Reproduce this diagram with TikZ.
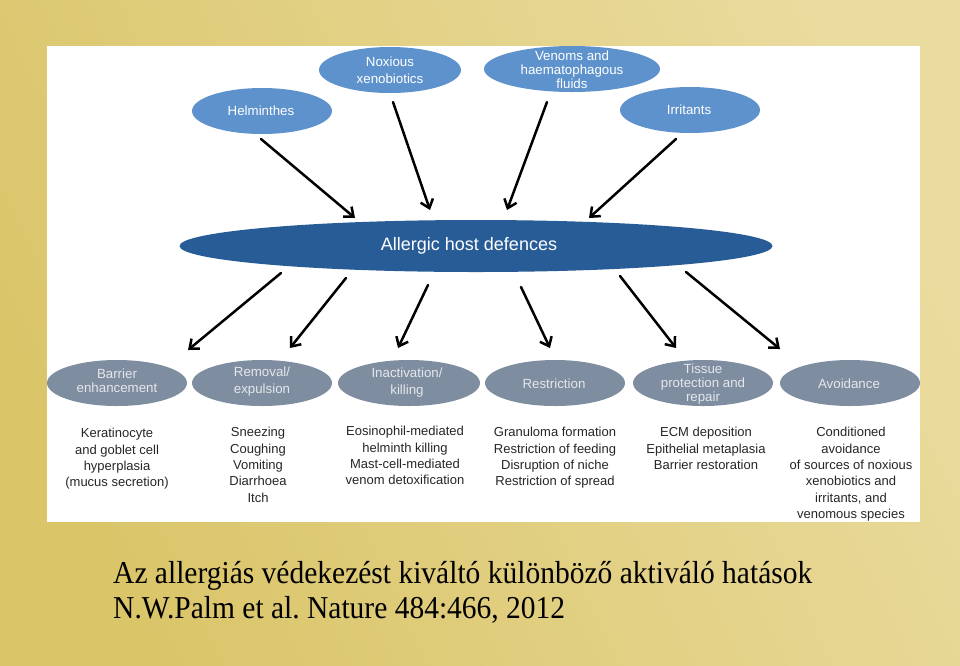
\documentclass[tikz,border=0pt]{standalone}
\usepackage{graphicx}
\usepackage{fontspec}
\setmainfont{Liberation Serif}
\setsansfont{Liberation Sans}
\usetikzlibrary{shapes.geometric,arrows.meta}
\definecolor{bgA}{RGB}{218,197,105}
\definecolor{bgB}{RGB}{234,219,158}
\definecolor{topblue}{RGB}{94,146,204}
\definecolor{midblue}{RGB}{40,92,150}
\definecolor{greyblue}{RGB}{126,141,160}
\definecolor{efftxt}{RGB}{228,231,235}
\definecolor{txt}{RGB}{38,38,38}
\begin{document}
\begin{tikzpicture}[x=1pt,y=-1pt,
  ell/.style={ellipse, inner sep=0pt, minimum width=140pt, minimum height=46pt},
  src/.style={ell, fill=topblue},
  eff/.style={ell, fill=greyblue},
  eltext/.style={font=\sffamily\fontsize{13.3}{13.8}\selectfont, align=center, inner sep=0pt},
  srctext/.style={eltext, text=white},
  efftext/.style={eltext, text=efftxt},
  desc/.style={font=\sffamily\fontsize{13}{16.4}\selectfont, align=center,
    text=txt, anchor=north, inner sep=0pt},
  arr/.style={line width=2.5pt, line cap=round, -{Straight Barb[length=8pt,width=13pt]}},
  captext/.style={font=\fontsize{29.5}{35}\selectfont, anchor=base west, inner sep=0pt, text=black}
]
\useasboundingbox (0,0) rectangle (960,665);
\shade[left color=bgA, right color=bgB, shading angle=115] (0,0) rectangle (960,665);
\fill[white] (47,46) rectangle (920,522);

% sources
\node[src, minimum width=140pt] (helm) at (262,111) {};
\node[srctext] (helmt) at (261,111) {Helminthes};
\node[src, minimum width=142pt] (nox) at (390,70) {};
\node[srctext] (noxt) at (390,70) {Noxious\\[3.5pt]xenobiotics};
\node[src, minimum width=176pt] (ven) at (572,69) {};
\node[srctext] (vent) at (572,70) {Venoms and\\haematophagous\\fluids};
\node[src, minimum width=140pt] (irr) at (690,110) {};
\node[srctext] (irrt) at (689,110) {Irritants};

% centre
\node[ellipse, fill=midblue, inner sep=0pt, minimum width=593pt, minimum height=52pt] (ahd) at (476,246) {};
\node[text=white, inner sep=0pt, font=\sffamily\fontsize{18}{18}\selectfont] (ahdt) at (469,246) {Allergic host defences};

% effector ellipses
\node[eff] (e1) at (117,383) {};
\node[efftext] (e1t) at (117,381) {Barrier\\enhancement};
\node[eff] (e2) at (262,383) {};
\node[efftext] (e2t) at (262,381.5) {Removal/\\[3pt]expulsion};
\node[eff, minimum width=142pt] (e3) at (409,383) {};
\node[efftext] (e3t) at (407,382.5) {Inactivation/\\[3.5pt]killing};
\node[eff] (e4) at (555,383) {};
\node[efftext] (e4t) at (554,384) {Restriction};
\node[eff] (e5) at (703,383) {};
\node[efftext] (e5t) at (703,384) {Tissue\\protection and\\repair};
\node[eff] (e6) at (850,383) {};
\node[efftext] (e6t) at (849,384) {Avoidance};

% descriptions
\node[desc] (d1) at (117,428) {Keratinocyte\\and goblet cell\\hyperplasia\\(mucus secretion)};
\node[desc] (d2) at (258,427) {Sneezing\\Coughing\\Vomiting\\Diarrhoea\\Itch};
\node[desc] (d3) at (405,426) {Eosinophil-mediated\\helminth killing\\Mast-cell-mediated\\venom detoxification};
\node[desc] (d4) at (555,427) {Granuloma formation\\Restriction of feeding\\Disruption of niche\\Restriction of spread};
\node[desc] (d5) at (706,427) {ECM deposition\\Epithelial metaplasia\\Barrier restoration};
\node[desc] (d6) at (851,427) {Conditioned\\avoidance\\of sources of noxious\\xenobiotics and\\irritants, and\\venomous species};

% arrow end points
\coordinate (a1s) at (261,139); \coordinate (a1e) at (355,218);
\coordinate (a2s) at (393,102); \coordinate (a2e) at (430,210);
\coordinate (a3s) at (547,102); \coordinate (a3e) at (507,210);
\coordinate (a4s) at (676,139); \coordinate (a4e) at (589,218);
\coordinate (b1s) at (281,273); \coordinate (b1e) at (188,350);
\coordinate (b2s) at (346,278); \coordinate (b2e) at (290,348);
\coordinate (b3s) at (428,285); \coordinate (b3e) at (398,348);
\coordinate (b4s) at (521,287); \coordinate (b4e) at (550,348);
\coordinate (b5s) at (620,276); \coordinate (b5e) at (676,348);
\coordinate (b6s) at (686,272); \coordinate (b6e) at (780,349);

\foreach \s/\e in {a1s/a1e,a2s/a2e,a3s/a3e,a4s/a4e,b1s/b1e,b2s/b2e,b3s/b3e,b4s/b4e,b5s/b5e,b6s/b6e}
  \draw[arr] (\s) -- (\e);

% caption
\node[captext] (cap1) at (113,583) {\scalebox{1}[1.08]{Az allergiás védekezést kiváltó különböző aktiváló hatások}};
\node[captext] (cap2) at (113,618) {\scalebox{1}[1.08]{N.W.Palm et al.\ Nature 484:466, 2012}};
\end{tikzpicture}
\end{document}
